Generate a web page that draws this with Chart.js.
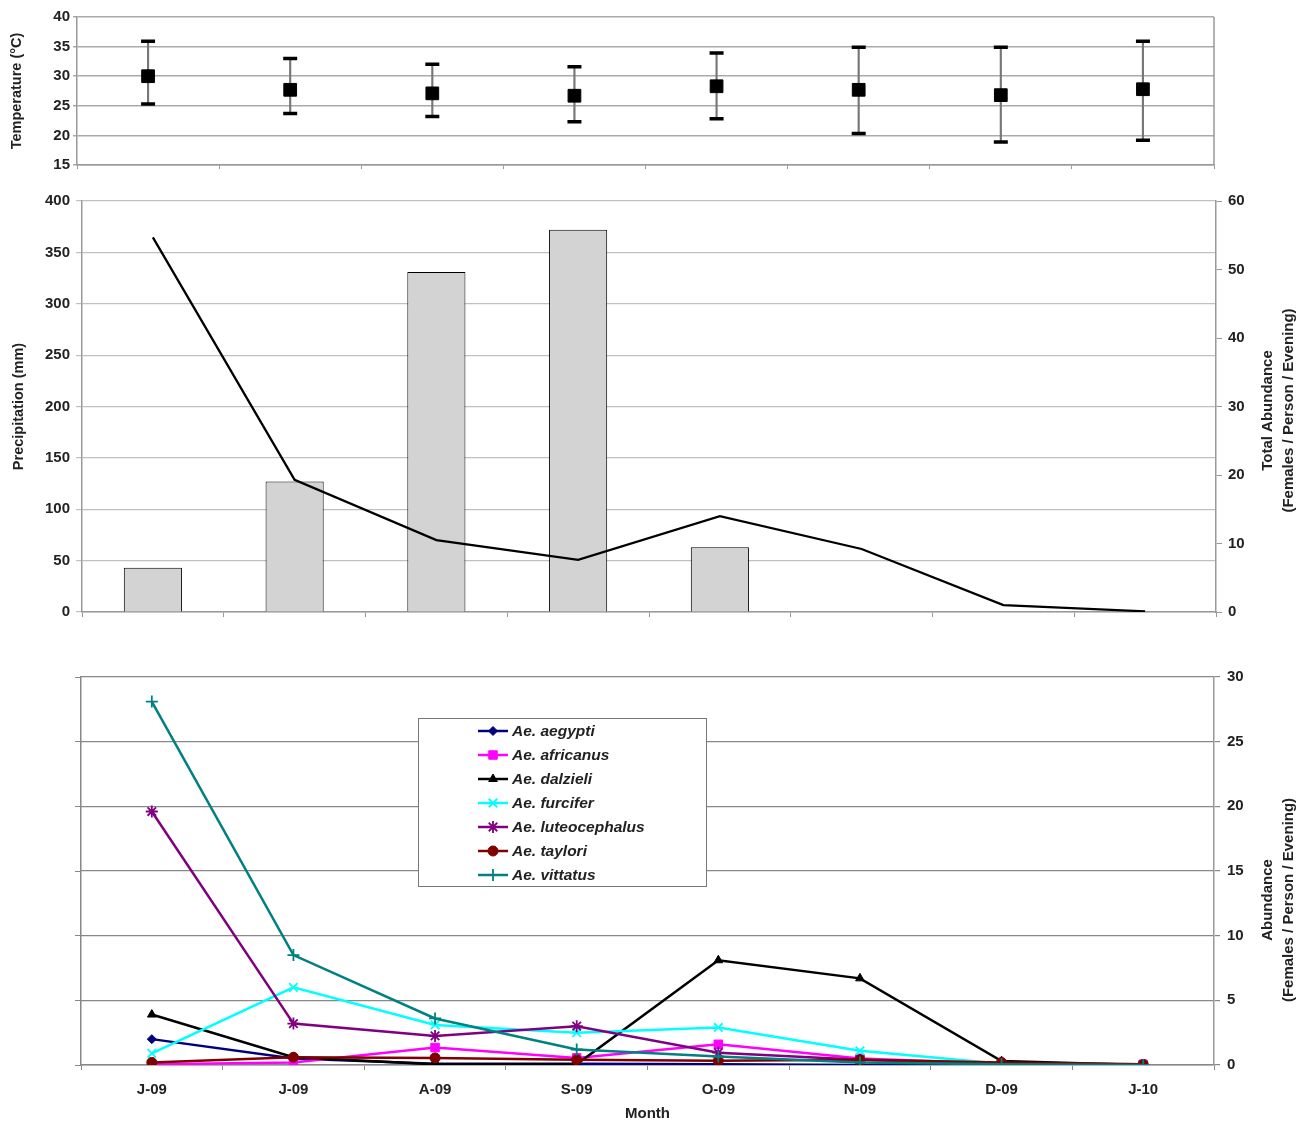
<!DOCTYPE html>
<html><head><meta charset="utf-8">
<script src="https://cdn.jsdelivr.net/npm/chart.js@4.4.0/dist/chart.umd.min.js"></script>
<style>
body{margin:0;background:#fff;width:1303px;height:1123px;overflow:hidden;position:relative}
canvas{position:absolute;left:0}
</style></head><body>
<canvas id="c1" width="1303" height="180" style="top:0"></canvas>
<canvas id="c2" width="1303" height="460" style="top:180px"></canvas>
<canvas id="c3" width="1303" height="483" style="top:640px"></canvas>
<script>
const months = ['J-09','J-09','A-09','S-09','O-09','N-09','D-09','J-10'];
const tempMean = [30.0, 27.7, 27.1, 26.7, 28.3, 27.7, 26.8, 27.8];
const tempMax  = [35.9, 33.0, 32.0, 31.6, 33.9, 34.9, 34.9, 35.9];
const tempMin  = [25.3, 23.7, 23.2, 22.3, 22.8, 20.3, 18.9, 19.2];
const tempTicks = [15, 20, 25, 30, 35, 40];
const precipitation  = [43, 127, 331, 372, 63, 0, 0, 0];
const totalAbundance = [54.7, 19.3, 10.5, 7.6, 14.0, 9.2, 1.0, 0.1];
const speciesNames = ['Ae. aegypti','Ae. africanus','Ae. dalzieli','Ae. furcifer','Ae. luteocephalus','Ae. taylori','Ae. vittatus'];
const aegypti       = [2.0, 0.5, 0.1, 0.1, 0.05, 0.0, 0.0, 0.0];
const africanus     = [0.05, 0.2, 1.35, 0.55, 1.6, 0.5, 0.1, 0.05];
const dalzieli      = [3.9, 0.6, 0.05, 0.05, 8.1, 6.7, 0.3, 0.0];
const furcifer      = [0.9, 6.0, 3.1, 2.5, 2.9, 1.1, 0.1, 0.05];
const luteocephalus = [19.6, 3.2, 2.25, 3.0, 0.95, 0.4, 0.05, 0.0];
const taylori       = [0.2, 0.6, 0.55, 0.4, 0.33, 0.4, 0.2, 0.05];
const vittatus      = [28.1, 8.5, 3.6, 1.2, 0.65, 0.2, 0.05, 0.0];
const speciesData = [aegypti, africanus, dalzieli, furcifer, luteocephalus, taylori, vittatus];

const FONT = '"Liberation Sans", Arial, sans-serif';
Chart.defaults.font.family = FONT;
Chart.defaults.font.weight = 'bold';
Chart.defaults.font.size = 15;
Chart.defaults.color = '#222';
Chart.defaults.animation = false;
Chart.defaults.plugins.legend.display = false;
Chart.defaults.plugins.tooltip.enabled = false;

const fixW = w => s => { s.width = w; };
const fixH = h => s => { s.height = h; };

const frameRight = {
  id: 'frameRight',
  afterDraw(chart, args, opts) {
    if (!opts.on) return;
    const {ctx, chartArea: a} = chart;
    ctx.save(); ctx.strokeStyle = '#999'; ctx.lineWidth = 1.5;
    ctx.beginPath(); ctx.moveTo(a.right, a.top); ctx.lineTo(a.right, a.bottom); ctx.stroke();
    ctx.restore();
  }
};
const rotTitle = {
  id: 'rotTitle',
  afterDraw(chart, args, opts) {
    if (!opts.lines) return;
    const {ctx, chartArea: a} = chart;
    ctx.save();
    ctx.font = 'bold 15px ' + FONT; ctx.fillStyle = '#222';
    ctx.textAlign = 'center'; ctx.textBaseline = 'middle';
    const cy = (a.top + a.bottom) / 2 + (opts.dy || 0);
    opts.lines.forEach((t, i) => {
      ctx.save(); ctx.translate(opts.x[i], cy); ctx.rotate(-Math.PI / 2);
      ctx.fillText(t, 0, 0); ctx.restore();
    });
    ctx.restore();
  }
};
const boxLegend = {
  id: 'boxLegend',
  afterDraw(chart, args, opts) {
    if (!opts.box) return;
    const ctx = chart.ctx; const b = opts.box;
    ctx.save();
    ctx.fillStyle = '#fff'; ctx.fillRect(b.x, b.y, b.w, b.h);
    ctx.strokeStyle = '#777'; ctx.lineWidth = 1; ctx.strokeRect(b.x + 0.5, b.y + 0.5, b.w, b.h);
    chart.data.datasets.forEach((ds, i) => {
      const y = b.y + opts.first + i * opts.step;
      ctx.strokeStyle = ds.borderColor; ctx.lineWidth = ds.borderWidth;
      ctx.beginPath(); ctx.moveTo(opts.lx1, y); ctx.lineTo(opts.lx2, y); ctx.stroke();
      ctx.fillStyle = ds.pointBackgroundColor; ctx.strokeStyle = ds.borderColor; ctx.lineWidth = ds.pointBorderWidth;
      Chart.helpers.drawPoint(ctx, {pointStyle: ds.pointStyle, radius: ds.pointRadius, borderWidth: ds.pointBorderWidth, rotation: 0}, (opts.lx1 + opts.lx2) / 2, y);
      ctx.fillStyle = '#222'; ctx.font = 'italic bold 15.5px ' + FONT;
      ctx.textAlign = 'left'; ctx.textBaseline = 'middle';
      ctx.fillText(ds.label, opts.tx, y + 1);
    });
    ctx.restore();
  }
};
Chart.register(frameRight, rotTitle, boxLegend);

// ---- Top: temperature ----
new Chart(document.getElementById('c1'), {
  type: 'bar',
  data: {
    labels: months,
    datasets: [
      {type: 'line', data: tempMean, showLine: false, pointStyle: 'rect', pointRadius: 9, pointBorderWidth: 1,
       pointBackgroundColor: '#000', pointBorderColor: '#000', order: 0},
      {type: 'line', data: tempMax, showLine: false, pointStyle: 'line', pointRadius: 7, pointBorderWidth: 3.5,
       pointBorderColor: '#000', borderColor: '#000', order: 1},
      {type: 'line', data: tempMin, showLine: false, pointStyle: 'line', pointRadius: 7, pointBorderWidth: 3.5,
       pointBorderColor: '#000', borderColor: '#000', order: 1},
      {type: 'bar', data: months.map((m, i) => [tempMin[i], tempMax[i]]), backgroundColor: '#777',
       barThickness: 1.5, order: 2}
    ]
  },
  options: {
    responsive: false,
    layout: {padding: {top: 17, right: 89, bottom: 0, left: 0}},
    plugins: {frameRight: {on: true}},
    scales: {
      x: {offset: true, grid: {offset: true, drawOnChartArea: false, tickLength: 4, color: '#999'},
          border: {color: '#999', width: 1.5}, ticks: {callback: () => ''}, afterFit: fixH(15)},
      y: {min: 15, max: 40, afterBuildTicks: s => { s.ticks = tempTicks.map(v => ({value: v})); },
          grid: {color: '#aaa', lineWidth: 1.5, tickLength: 4}, border: {color: '#999', width: 1.5},
          ticks: {padding: 3},
          title: {display: true, text: 'Temperature (°C)', font: {size: 14.5, weight: 'bold'}, padding: {top: 8, bottom: 2}},
          afterFit: fixW(77)}
    }
  }
});

// ---- Middle: precipitation + total abundance ----
new Chart(document.getElementById('c2'), {
  type: 'bar',
  data: {
    labels: months,
    datasets: [
      {type: 'line', data: totalAbundance, yAxisID: 'y1', borderColor: '#000', borderWidth: 2.3, pointRadius: 0, order: 0},
      {type: 'bar', data: precipitation, yAxisID: 'y', backgroundColor: '#d3d3d3', borderColor: '#000', borderWidth: 1,
       categoryPercentage: 1, barPercentage: 0.41, order: 1}
    ]
  },
  options: {
    responsive: false,
    layout: {padding: {top: 21, right: 0, bottom: 0, left: 0}},
    plugins: {rotTitle: {lines: ['Total Abundance', '(Females / Person / Evening)'], x: [1268, 1289], dy: 4}},
    scales: {
      x: {offset: true, grid: {offset: true, drawOnChartArea: false, tickLength: 5, color: '#999'},
          border: {color: '#999', width: 1.5}, ticks: {callback: () => ''}, afterFit: fixH(28)},
      y: {min: 0, max: 400, ticks: {stepSize: 50, padding: 6},
          grid: {color: '#c0c0c0', lineWidth: 1.2, tickLength: 6}, border: {color: '#999', width: 1.5},
          title: {display: true, text: 'Precipitation (mm)', font: {size: 14.5, weight: 'bold'}, padding: {top: 10, bottom: 2}},
          afterFit: fixW(82)},
      y1: {position: 'right', min: 0, max: 60, ticks: {stepSize: 10, padding: 6},
           grid: {drawOnChartArea: false, tickLength: 6, color: '#999'}, border: {color: '#999', width: 1.5},
           afterFit: fixW(87)}
    }
  }
});

// ---- Bottom: species abundance ----
const colors = ['#000080', '#ff00ff', '#000000', '#00ffff', '#800080', '#800000', '#008080'];
const styles = ['rectRot', 'rect', 'triangle', 'crossRot', 'star', 'circle', 'cross'];
const radii  = [4.5, 6, 5, 6, 6, 5, 6];
new Chart(document.getElementById('c3'), {
  type: 'line',
  data: {
    labels: months,
    datasets: speciesNames.map((n, i) => ({
      label: n, data: speciesData[i], yAxisID: 'y', borderColor: colors[i], borderWidth: 2.5,
      pointStyle: styles[i], pointRadius: radii[i], pointBorderWidth: styles[i].startsWith('cross') || styles[i] === 'star' ? 1.8 : 1,
      pointBackgroundColor: colors[i], pointBorderColor: colors[i], order: 7 - i, tension: 0
    }))
  },
  options: {
    responsive: false,
    layout: {padding: {top: 37, right: 0, bottom: 0, left: 0}},
    plugins: {
      rotTitle: {lines: ['Abundance', '(Females / Person / Evening)'], x: [1268, 1289], dy: 29},
      boxLegend: {box: {x: 418, y: 78, w: 288, h: 168}, first: 13, step: 24, lx1: 478, lx2: 508, tx: 512}
    },
    scales: {
      x: {offset: true, grid: {offset: true, drawOnChartArea: false, tickLength: 5, color: '#888'},
          border: {color: '#888', width: 1.5}, ticks: {padding: 11},
          title: {display: true, text: 'Month', font: {size: 15, weight: 'bold'}, padding: {top: 9, bottom: 0}},
          afterFit: fixH(58)},
      yl: {position: 'left', min: 0, max: 30, ticks: {stepSize: 5, callback: () => ''},
           grid: {drawOnChartArea: false, tickLength: 6, color: '#888'}, border: {color: '#888', width: 1.5},
           afterFit: fixW(81)},
      y: {position: 'right', min: 0, max: 30, ticks: {stepSize: 5, padding: 7},
          grid: {color: '#888', lineWidth: 1.2, tickLength: 6}, border: {color: '#999', width: 1.5},
          afterFit: fixW(89)}
    }
  }
});
</script>
</body></html>
